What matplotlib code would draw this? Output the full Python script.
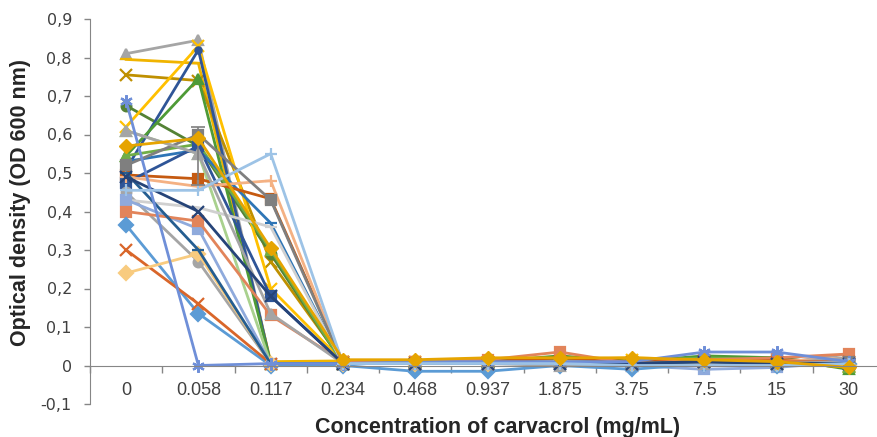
import numpy as np
import matplotlib
matplotlib.use('Agg')
import matplotlib.pyplot as plt

conc = ['0', '0.058', '0.117', '0.234', '0.468', '0.937', '1.875', '3.75', '7.5', '15', '30']

# OD600 values, one list per strain
s_gray_tri = [0.81, 0.845, 0.005, 0.005, 0.005, 0.008, 0.005, 0.0, 0.005, 0.005, 0.03]
s_gold_line = [0.795, 0.785, 0.01, 0.012, 0.01, 0.015, 0.015, 0.02, 0.015, 0.01, -0.005]
s_dkgold_x = [0.755, 0.74, 0.27, 0.01, 0.005, 0.01, 0.01, 0.01, 0.01, 0.005, 0.0]
s_blue_ast = [0.687, 0.0, 0.005, 0.005, 0.01, 0.01, 0.01, 0.01, 0.035, 0.035, 0.01]
s_dkgreen_o = [0.675, 0.57, 0.29, 0.005, 0.005, 0.01, 0.02, 0.005, 0.02, 0.02, 0.0]
s_ltgold_x = [0.62, 0.83, 0.2, 0.01, 0.01, 0.01, 0.01, 0.015, 0.01, 0.01, -0.005]
s_dkblue_dot = [0.51, 0.82, 0.005, 0.005, 0.005, 0.005, 0.005, 0.005, 0.01, 0.01, 0.005]
s_green_tri = [0.545, 0.745, 0.005, 0.005, 0.01, 0.01, 0.025, 0.01, 0.025, 0.02, -0.01]
s_pale_tri = [0.61, 0.55, 0.005, 0.005, 0.005, 0.005, 0.01, 0.005, 0.01, 0.005, 0.0]
s_gold_dia = [0.57, 0.59, 0.305, 0.015, 0.015, 0.02, 0.02, 0.02, 0.015, 0.01, -0.005]
s_green2_tri = [0.545, 0.575, 0.3, 0.005, 0.005, 0.01, 0.015, 0.01, 0.02, 0.015, -0.005]
s_blue_dash = [0.53, 0.56, 0.37, 0.005, 0.005, 0.005, 0.01, 0.005, 0.015, 0.01, 0.005]
s_dkorange_sq = [0.495, 0.485, 0.433, 0.01, 0.01, 0.01, 0.02, 0.01, 0.015, 0.015, 0.01]
s_dkblue_sq = [0.475, 0.57, 0.18, 0.005, 0.005, 0.005, 0.01, 0.005, 0.01, 0.01, 0.005]
s_salmon_plus = [0.49, 0.465, 0.48, 0.005, 0.005, 0.005, 0.01, 0.005, 0.01, 0.01, 0.02]
s_ltblue_plus = [0.455, 0.455, 0.55, 0.005, 0.005, 0.005, 0.005, 0.0, 0.0, 0.0, 0.005]
s_gray_o = [0.45, 0.27, 0.005, 0.005, 0.005, 0.005, 0.005, 0.005, 0.005, 0.005, 0.02]
s_ltgray_dash = [0.43, 0.41, 0.36, 0.005, 0.005, 0.005, 0.005, 0.0, 0.005, 0.005, 0.01]
s_peri_sq = [0.43, 0.355, 0.005, 0.005, 0.005, 0.005, 0.005, 0.0, -0.01, -0.005, 0.01]
s_salmon_sq = [0.40, 0.375, 0.13, 0.01, 0.01, 0.015, 0.035, 0.005, 0.015, 0.02, 0.03]
s_ltblue_dia = [0.365, 0.135, 0.0, 0.0, -0.015, -0.015, 0.0, -0.01, 0.005, 0.0, 0.005]
s_orange_x = [0.30, 0.16, 0.005, 0.005, 0.005, 0.005, 0.01, 0.005, 0.01, 0.01, 0.01]
s_beige_dia = [0.24, 0.29, 0.005, 0.005, 0.005, 0.005, 0.01, 0.005, 0.01, 0.005, 0.0]
s_dkgray_sq = [0.52, 0.60, 0.43, 0.005, 0.005, 0.005, 0.005, 0.005, 0.01, 0.005, 0.01]
s_gray2_tri = [0.61, 0.55, 0.135, 0.005, 0.005, 0.005, 0.0, 0.005, 0.005, 0.005, 0.01]
s_steel_dash = [0.50, 0.30, 0.005, 0.005, 0.005, 0.005, 0.005, 0.005, 0.01, 0.005, 0.005]
s_navy_x = [0.49, 0.40, 0.18, 0.005, 0.005, 0.005, 0.005, 0.005, 0.01, 0.005, 0.005]

# error bar on the gold diamond series at 0.058
err_lo = [0.0, 0.12, 0, 0, 0, 0, 0, 0, 0, 0, 0]
err_hi = [0.0, 0.03, 0, 0, 0, 0, 0, 0, 0, 0, 0]

ytick_vals = [-0.1, 0.0, 0.1, 0.2, 0.3, 0.4, 0.5, 0.6, 0.7, 0.8, 0.9]
ytick_text = ['-0,1', '0', '0,1', '0,2', '0,3', '0,4', '0,5', '0,6', '0,7', '0,8', '0,9']

ast = (6, 2, 0)
series = [
    (s_gray_tri, '#A5A5A5', '^'),
    (s_gold_line, '#F0B400', '_'),
    (s_dkgold_x, '#BF9000', 'x'),
    (s_dkgreen_o, '#548235', 'o'),
    (s_ltgold_x, '#FFC000', 'x'),
    (s_dkblue_dot, '#2F5597', '.'),
    (s_green_tri, '#4E9A36', '^'),
    (s_pale_tri, '#A9D18E', '^'),
    (s_green2_tri, '#70AD47', '^'),
    (s_blue_dash, '#2E75B6', '_'),
    (s_dkorange_sq, '#C55A11', 's'),
    (s_dkblue_sq, '#2F5597', 's'),
    (s_salmon_plus, '#F4B183', '+'),
    (s_gray_o, '#A5A5A5', 'o'),
    (s_ltgray_dash, '#D0D0D0', '_'),
    (s_peri_sq, '#8FAADC', 's'),
    (s_salmon_sq, '#E2845A', 's'),
    (s_ltblue_dia, '#5B9BD5', 'D'),
    (s_orange_x, '#D9662A', 'x'),
    (s_beige_dia, '#F8CB7F', 'D'),
    (s_dkgray_sq, '#7F7F7F', 's'),
    (s_gray2_tri, '#A5A5A5', '^'),
    (s_steel_dash, '#255E91', '_'),
    (s_navy_x, '#264478', 'x'),
    (s_blue_ast, '#6F8FD8', ast),
    (s_ltblue_plus, '#9DC3E6', '+'),
]

fig = plt.figure(figsize=(8.77, 4.37), dpi=100)
ax = fig.add_axes([90 / 877, 33 / 437, 795 / 877, 385 / 437])

x = np.arange(len(conc))
for vals, col, mk in series:
    ms = 7 if mk in ('s', 'D', 'o', '^') else 9
    ax.plot(x, vals, color=col, lw=2, marker=mk, ms=ms, mew=1.6, mec=col, mfc=col)

ax.errorbar(x[1:2], s_gold_dia[1:2], yerr=[err_lo[1:2], err_hi[1:2]], fmt='none',
            ecolor='#7F7F7F', elinewidth=1.2, capsize=5, capthick=1.2)
ax.plot(x, s_gold_dia, color='#E6A400', lw=2, marker='D', ms=7, mec='#E6A400', mfc='#E6A400')

ax.set_xlim(-0.5, len(conc) - 0.5)
ax.set_ylim(-0.1, 0.9)
ax.set_yticks(ytick_vals, ytick_text)
ax.set_xticks(x, conc)
ax.set_xticks(np.arange(-0.5, len(conc), 1), minor=True)

ax.tick_params(axis='x', which='major', length=0, pad=12, labelsize=13,
               labelcolor='#404040', labelfontfamily='Liberation Sans')
ax.tick_params(axis='x', which='minor', length=5, color='#868686', width=1, direction='out')
ax.tick_params(axis='y', length=4, color='#868686', width=1, pad=9, labelsize=11.5,
               labelcolor='#404040', labelfontfamily='DejaVu Sans')

for s in ['top', 'right']:
    ax.spines[s].set_visible(False)
ax.spines['left'].set_color('#868686')
ax.spines['bottom'].set_position(('data', 0))
ax.spines['bottom'].set_color('#868686')

fig.text(498 / 877, 1 - 427 / 437, 'Concentration of carvacrol (mg/mL)', ha='center', va='center',
         fontsize=15.5, fontweight='bold', color='#262626', family=['Liberation Sans', 'DejaVu Sans'])
fig.text(21 / 877, 1 - 203 / 437, 'Optical density (OD 600 nm)', ha='center', va='center', rotation=90,
         fontsize=15.5, fontweight='bold', color='#262626', family=['Liberation Sans', 'DejaVu Sans'])

fig.savefig('out.png', dpi=100)
